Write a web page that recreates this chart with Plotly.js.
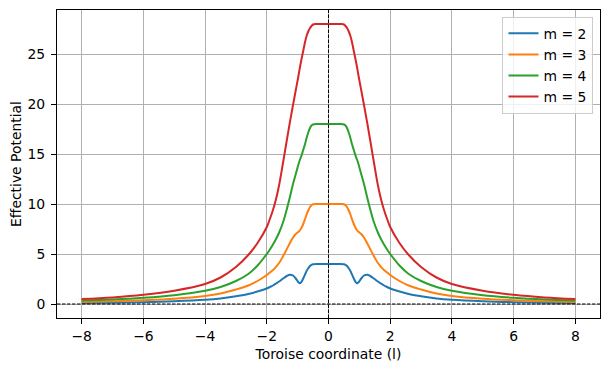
<!DOCTYPE html>
<html>
<head>
<meta charset="utf-8">
<script src="https://cdn.plot.ly/plotly-3.0.1.min.js"></script>
<style>
  html, body { margin: 0; padding: 0; background: #fff; }
  #chart { width: 609px; height: 371px; }
</style>
</head>
<body>
<div id="chart"></div>
<script>
// tortoise coordinate samples (denser near the throat)
const coords = [-8, -7, -6, -5, -4, -3.5, -3, -2.6, -2.3, -2, -1.9, -1.8, -1.7, -1.6, -1.47, -1.35, -1.25, -1.15, -1.06, -0.98, -0.93, -0.88, -0.82, -0.76, -0.71, -0.65, -0.6, -0.55, -0.5, -0.4, -0.2,
    0, 0.2, 0.4, 0.5, 0.55, 0.6, 0.65, 0.71, 0.76, 0.82, 0.88, 0.93, 0.98, 1.06, 1.15, 1.25, 1.35, 1.47, 1.6, 1.7, 1.8, 1.9, 2, 2.3, 2.6, 3, 3.5, 4, 5, 6, 7, 8];

const potM2 = [0.1, 0.13, 0.18, 0.27, 0.42, 0.56, 0.78, 1.0, 1.25, 1.55, 1.7, 1.85, 2.05, 2.25, 2.55, 2.8, 2.93, 2.85, 2.55, 2.2, 2.07, 2.2, 2.55, 2.95, 3.3, 3.6, 3.8, 3.92, 3.97, 4.0, 4.0,
    4.0, 4.0, 4.0, 3.97, 3.92, 3.8, 3.6, 3.3, 2.95, 2.55, 2.2, 2.07, 2.2, 2.55, 2.85, 2.93, 2.8, 2.55, 2.25, 2.05, 1.85, 1.7, 1.55, 1.25, 1.0, 0.78, 0.56, 0.42, 0.27, 0.18, 0.13, 0.1];

const potM3 = [0.2, 0.27, 0.37, 0.52, 0.8, 1.05, 1.45, 1.85, 2.3, 2.9, 3.15, 3.4, 3.72, 4.1, 4.8, 5.5, 6.1, 6.65, 7.0, 7.2, 7.35, 7.6, 8.0, 8.5, 8.95, 9.4, 9.7, 9.88, 9.97, 10, 10,
    10, 10, 10, 9.97, 9.88, 9.7, 9.4, 8.95, 8.5, 8.0, 7.6, 7.35, 7.2, 7.0, 6.65, 6.1, 5.5, 4.8, 4.1, 3.72, 3.4, 3.15, 2.9, 2.3, 1.85, 1.45, 1.05, 0.8, 0.52, 0.37, 0.27, 0.2];

const potM4 = [0.35, 0.45, 0.62, 0.88, 1.32, 1.7, 2.3, 3.0, 3.85, 5.0, 5.45, 5.95, 6.5, 7.15, 8.2, 9.5, 10.7, 12.0, 13.0, 13.9, 14.4, 14.8, 15.4, 16.0, 16.6, 17.2, 17.6, 17.85, 17.95, 18, 18,
    18, 18, 18, 17.95, 17.85, 17.6, 17.2, 16.6, 16.0, 15.4, 14.8, 14.4, 13.9, 13.0, 12.0, 10.7, 9.5, 8.2, 7.15, 6.5, 5.95, 5.45, 5.0, 3.85, 3.0, 2.3, 1.7, 1.32, 0.88, 0.62, 0.45, 0.35];

const potM5 = [0.5, 0.66, 0.92, 1.33, 2.0, 2.65, 3.7, 4.9, 6.1, 7.7, 8.5, 9.4, 10.5, 11.9, 14.2, 16.4, 18.2, 19.9, 21.4, 22.7, 23.6, 24.4, 25.3, 26.2, 26.8, 27.3, 27.6, 27.8, 27.95, 28, 28,
    28, 28, 28, 27.95, 27.8, 27.6, 27.3, 26.8, 26.2, 25.3, 24.4, 23.6, 22.7, 21.4, 19.9, 18.2, 16.4, 14.2, 11.9, 10.5, 9.4, 8.5, 7.7, 6.1, 4.9, 3.7, 2.65, 2.0, 1.33, 0.92, 0.66, 0.5];

const seriesNames = ['m = 2', 'm = 3', 'm = 4', 'm = 5'];
const seriesValues = [potM2, potM3, potM4, potM5];
const seriesColors = ['#1f77b4', '#ff7f0e', '#2ca02c', '#d62728'];

const FONT = 'DejaVu Sans, sans-serif';

function buildTrace(values, idx) {
    return {
        x: coords,
        y: values,
        type: 'scatter',
        mode: 'lines',
        name: seriesNames[idx],
        line: {shape: 'spline', smoothing: 1, width: 2, color: seriesColors[idx]},
        hoverinfo: 'skip'
    };
}

function buildAxis(range, dtick, title, standoff, labelGap) {
    return {
        range,
        dtick,
        tick0: 0,
        showline: true,
        mirror: true,
        linecolor: '#000',
        linewidth: 1,
        ticks: 'outside',
        ticklen: 5,
        tickwidth: 1,
        tickcolor: '#000',
        ticklabelstandoff: labelGap,
        showgrid: true,
        gridcolor: '#b0b0b0',
        gridwidth: 1,
        zeroline: false,
        tickfont: {family: FONT, size: 13.9, color: '#000'},
        title: {text: title, font: {family: FONT, size: 13.9, color: '#000'}, standoff}
    };
}

const layout = {
    width: 609,
    height: 371,
    margin: {l: 57, r: 9, t: 10, b: 53},
    paper_bgcolor: '#fff',
    plot_bgcolor: '#fff',
    font: {family: FONT, size: 13.9, color: '#000'},
    xaxis: buildAxis([-8.8, 8.8], 2, 'Toroise coordinate (l)', 6, 0),
    yaxis: buildAxis([-1.4, 29.4], 5, 'Effective Potential', 2, 3),
    showlegend: true,
    legend: {
        x: 0.988,
        y: 0.978,
        xanchor: 'right',
        yanchor: 'top',
        bgcolor: 'rgba(255,255,255,0.8)',
        bordercolor: '#cccccc',
        borderwidth: 1,
        font: {family: FONT, size: 13.9, color: '#000'}
    },
    shapes: [
        // dashed reference lines through the origin
        {type: 'line', xref: 'paper', yref: 'y', x0: 0, x1: 1, y0: 0, y1: 0,
         line: {color: '#000', width: 1, dash: '3.5px,1.5px'}, layer: 'above'},
        {type: 'line', xref: 'x', yref: 'paper', x0: 0, x1: 0, y0: 0, y1: 1,
         line: {color: '#000', width: 1, dash: '3.5px,1.5px'}, layer: 'above'}
    ]
};

Plotly.newPlot('chart', seriesValues.map(buildTrace), layout, {displayModeBar: false, staticPlot: true});
</script>
</body>
</html>
